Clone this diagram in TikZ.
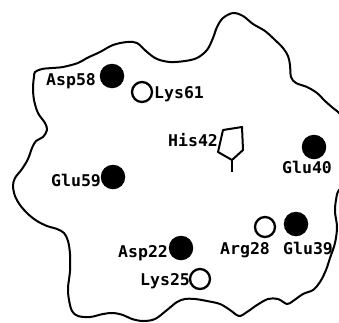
\documentclass[tikz,border=0pt]{standalone}
\usepackage{fontspec}
\newfontfamily\labfont[FakeStretch=1.02]{DejaVu Sans Mono Bold}
\begin{document}
\begin{tikzpicture}[x=1pt,y=-1pt,
  outline/.style={line width=2pt,line join=round},
  acidic/.style={circle,fill=black,minimum size=24.5pt,inner sep=0pt},
  basic/.style={circle,draw=black,line width=2.3pt,fill=white,minimum size=20pt,inner sep=0pt},
  residue/.style={anchor=base west,inner sep=0pt,font=\labfont\fontsize{16.2}{16}\selectfont}]
\useasboundingbox (0,0) rectangle (339,322);
\fill[white] (0,0) rectangle (339,322);

% molecular surface outline
\begin{scope}
\clip (0,0) rectangle (339,322);
\draw[outline] plot[smooth cycle,tension=0.55] coordinates {
 (35,72) (42,69) (52,68) (63,67) (78,63) (87,58) (100,52) (113,45) (127,42)
 (137,43) (147,52) (157,59) (170,62) (185,61) (197,58) (207,50) (213,38)
 (217,27) (223,18) (233,13) (243,16) (253,24) (265,31) (275,40) (283,48)
 (288,56) (290,65) (291,77) (296,83) (307,87) (317,93) (325,101) (333,108)
 (339,113) (352,128) (352,178) (339,190) (336,200) (335,212) (337,227)
 (335,243) (330,258) (326,270) (320,282) (313,290) (303,294) (293,301)
 (287,304) (278,299) (268,299) (257,305) (247,312) (239,316) (230,310)
 (220,304) (207,301) (195,299) (185,299) (177,302) (167,310) (155,319)
 (143,321) (132,319) (123,315) (113,313) (103,314) (90,317) (78,316)
 (72,311) (69,300) (68,288) (70,271) (70,254) (68,241) (64,233) (57,229)
 (47,226) (37,221) (28,214) (20,205) (15,196) (13,186) (15,178) (22,169)
 (28,159) (32,148) (36,141) (43,137) (47,130) (45,123) (38,113) (34,100)
 (33,87) (34,77)};
\end{scope}

% charged residues
\node[acidic] (asp58) at (112,76) {};
\node[basic]  (lys61) at (142,92) {};
\node[acidic] (glu40) at (314,147) {};
\node[acidic] (glu59) at (113,177) {};
\node[basic]  (arg28) at (265,227) {};
\node[acidic] (glu39) at (296,224) {};
\node[acidic] (asp22) at (181,248) {};
\node[basic]  (lys25) at (200,279) {};

% histidine ring
\coordinate (h1) at (223,130);
\coordinate (h2) at (242,127);
\coordinate (h3) at (243,150);
\coordinate (h4) at (232,160);
\coordinate (h5) at (218,152);
\coordinate (h6) at (232,172);
\draw[outline] (h1) -- (h2) -- (h3) -- (h4) -- (h5) -- cycle;
\draw[outline] (h4) -- (h6);

% labels
\node[residue] (tasp58) at (46,85) {Asp58};
\node[residue] (tlys61) at (154,98) {Lys61};
\node[residue] (this42) at (168,146) {His42};
\node[residue] (tglu40) at (282,173) {Glu40};
\node[residue] (tglu59) at (51,186) {Glu59};
\node[residue] (targ28) at (220,254) {Arg28};
\node[residue] (tglu39) at (283,254) {Glu39};
\node[residue] (tasp22) at (118,257) {Asp22};
\node[residue] (tlys25) at (140,285) {Lys25};
\end{tikzpicture}
\end{document}
